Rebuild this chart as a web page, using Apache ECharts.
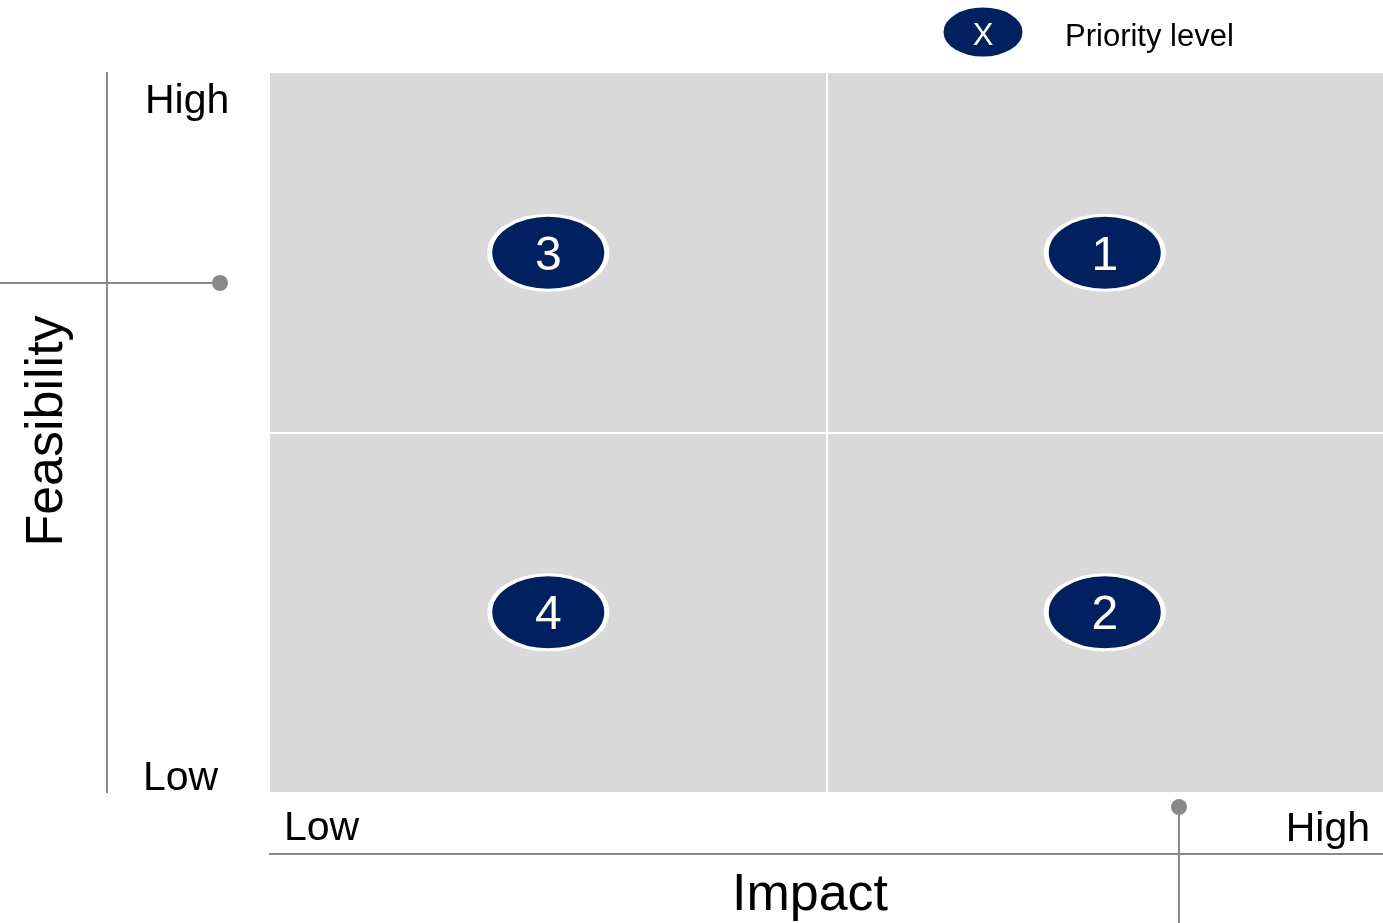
<!DOCTYPE html>
<html>
<head>
<meta charset="utf-8">
<script src="https://cdn.jsdelivr.net/npm/echarts@6/dist/echarts.min.js"></script>
<style>
html,body{margin:0;padding:0;background:#fff;}
#chart{width:1383px;height:923px;}
</style>
</head>
<body>
<div id="chart"></div>
<script>
// ---- data ----
const priorities = ['1', '2', '3', '4'];
const impactValues = [1.5, 1.5, 0.5, 0.5];
const feasibilityValues = [1.5, 0.5, 1.5, 0.5];
const dividerValues = [1];
const axisRange = [0, 2];
const levelLabels = ['Low', 'High'];
const xAxisTitle = 'Impact';
const yAxisTitle = 'Feasibility';
const legendSymbolText = 'X';
const legendText = 'Priority level';

const NAVY = '#002060';
const GRAY = '#898989';
const FONT = "'Liberation Sans', Arial, sans-serif";

const points = priorities.map((p, i) => ({ value: [impactValues[i], feasibilityValues[i]], name: p }));

const chart = echarts.init(document.getElementById('chart'), null, { renderer: 'canvas' });

const ellipsePath = 'path://M0,50 A50,50 0 1 1 100,50 A50,50 0 1 1 0,50 Z';

const option = {
  animation: false,
  backgroundColor: '#ffffff',
  grid: {
    left: 270, right: 0, top: 73, bottom: 131,
    show: true, backgroundColor: '#d9d9d9', borderWidth: 0
  },
  xAxis: {
    type: 'value', min: axisRange[0], max: axisRange[1], interval: 1,
    axisLine: { show: false }, axisTick: { show: false },
    axisLabel: { show: false }, splitLine: { show: false }
  },
  yAxis: {
    type: 'value', min: axisRange[0], max: axisRange[1], interval: 1,
    axisLine: { show: false }, axisTick: { show: false },
    axisLabel: { show: false }, splitLine: { show: false }
  },
  series: [{
    type: 'scatter',
    data: points,
    symbol: ellipsePath,
    symbolSize: [117, 75],
    itemStyle: { color: NAVY, borderColor: '#ffffff', borderWidth: 4, opacity: 1 },
    label: {
      show: true, position: 'inside', formatter: '{b}',
      color: '#ffffff', fontSize: 48, fontFamily: FONT, offset: [0, 4]
    },
    markLine: {
      silent: true, symbol: 'none',
      label: { show: false },
      lineStyle: { color: '#ffffff', width: 2, type: 'solid' },
      data: dividerValues.map(v => ({ xAxis: v })).concat(dividerValues.map(v => ({ yAxis: v })))
    },
    z: 5
  }],
  graphic: [
    // left axis decoration
    { type: 'line', shape: { x1: 107, y1: 72, x2: 107, y2: 793 }, style: { stroke: GRAY, lineWidth: 2 } },
    { type: 'line', shape: { x1: 0, y1: 283, x2: 220, y2: 283 }, style: { stroke: GRAY, lineWidth: 2 } },
    { type: 'circle', shape: { cx: 220, cy: 283, r: 8 }, style: { fill: GRAY } },
    // bottom axis decoration
    { type: 'line', shape: { x1: 269, y1: 854, x2: 1383, y2: 854 }, style: { stroke: GRAY, lineWidth: 2 } },
    { type: 'line', shape: { x1: 1179, y1: 807, x2: 1179, y2: 923 }, style: { stroke: GRAY, lineWidth: 2 } },
    { type: 'circle', shape: { cx: 1179, cy: 807, r: 8 }, style: { fill: GRAY } },
    // level labels
    { type: 'text', x: 145, y: 102, style: { text: levelLabels[1], font: '41px ' + FONT, fill: '#000', textAlign: 'left', verticalAlign: 'middle' } },
    { type: 'text', x: 143, y: 779, style: { text: levelLabels[0], font: '41px ' + FONT, fill: '#000', textAlign: 'left', verticalAlign: 'middle' } },
    { type: 'text', x: 284, y: 829, style: { text: levelLabels[0], font: '41px ' + FONT, fill: '#000', textAlign: 'left', verticalAlign: 'middle' } },
    { type: 'text', x: 1370, y: 830, style: { text: levelLabels[1], font: '41px ' + FONT, fill: '#000', textAlign: 'right', verticalAlign: 'middle' } },
    // axis titles
    { type: 'text', x: 810, y: 896, style: { text: xAxisTitle, font: '52px ' + FONT, fill: '#000', textAlign: 'center', verticalAlign: 'middle' } },
    { type: 'text', x: 48, y: 431, rotation: Math.PI / 2, style: { text: yAxisTitle, font: '52px ' + FONT, fill: '#000', textAlign: 'center', verticalAlign: 'middle' } },
    // legend
    { type: 'group', x: 983, y: 32, children: [
      { type: 'circle', shape: { cx: 0, cy: 0, r: 39.5 }, scaleY: 49 / 79, style: { fill: NAVY } }
    ] },
    { type: 'text', x: 983, y: 36, style: { text: legendSymbolText, font: '31px ' + FONT, fill: '#fff', textAlign: 'center', verticalAlign: 'middle' }, z: 10 },
    { type: 'text', x: 1065, y: 37, style: { text: legendText, font: '31px ' + FONT, fill: '#000', textAlign: 'left', verticalAlign: 'middle' } }
  ]
};

chart.setOption(option);
</script>
</body>
</html>
